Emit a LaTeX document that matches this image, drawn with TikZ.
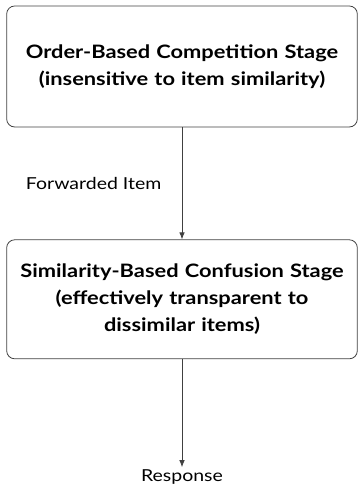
\documentclass[tikz,border=0pt]{standalone}
\usepackage{fontspec}
\setmainfont{Lato}[FakeStretch=1.18]
\usetikzlibrary{positioning,arrows.meta}

\begin{document}
\begin{tikzpicture}[
		x=1bp, y=1bp,
		stagebox/.style={draw=black!75, line width=0.8bp, rounded corners=8bp,
			minimum width=348bp, text width=344bp, align=center,
			font=\fontsize{18.5bp}{27bp}\selectfont\bfseries},
		flow/.style={draw=black!75, line width=0.8bp, -{Latex[length=7bp,width=5.5bp]}},
		every node/.style={font=\fontsize{16.5bp}{18bp}\selectfont}
	]
		\useasboundingbox (0,0) rectangle (357,497);
		\node[stagebox, minimum height=121bp] (order) at (182,430.5)
			{Order-Based Competition Stage\\(insensitive to item similarity)};
		\node[stagebox, minimum height=119bp, below=112bp of order] (confusion)
			{Similarity-Based Confusion Stage\\(effectively transparent to\\dissimilar items)};
		\node[below=108bp of confusion, inner sep=2bp] (response) {Response};
		\draw[flow] (order) -- node[left=17bp] (fwd) {Forwarded Item} (confusion);
		\draw[flow] (confusion) -- (response);
	\end{tikzpicture}
\end{document}
